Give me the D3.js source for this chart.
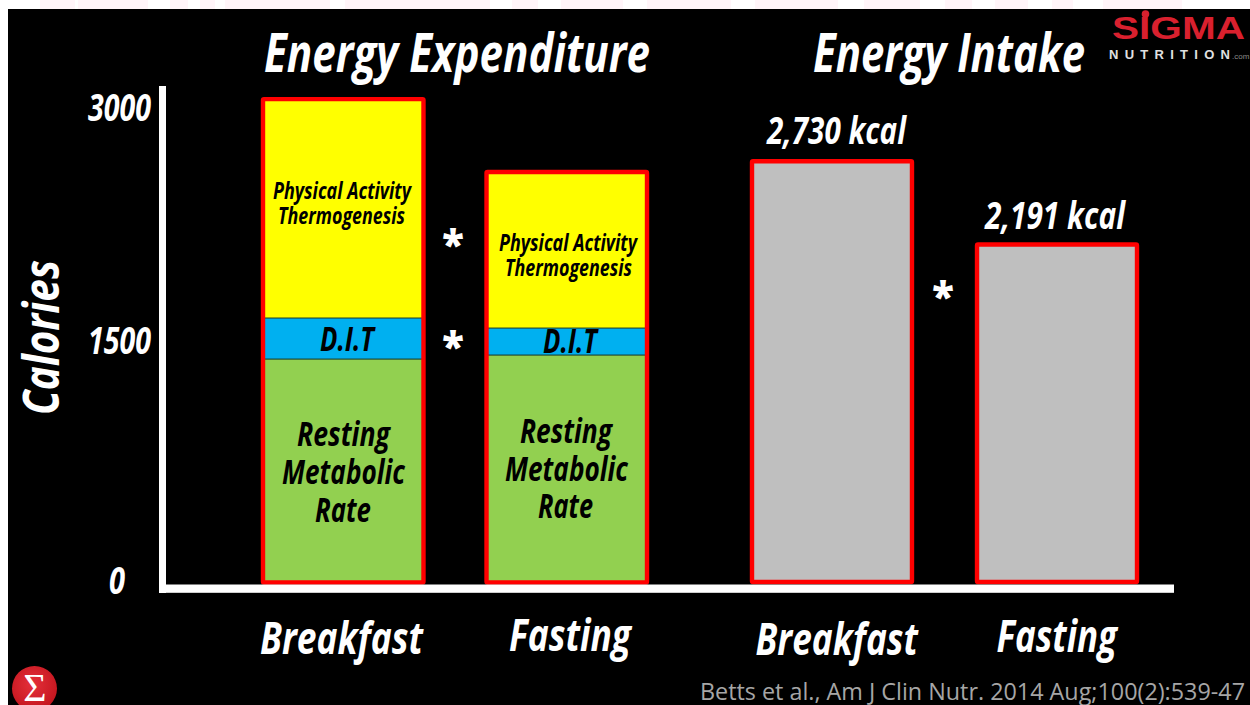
<!DOCTYPE html>
<html>
<head>
<meta charset="utf-8">
<script src="https://cdnjs.cloudflare.com/ajax/libs/d3/7.9.0/d3.min.js"></script>
<style>
  html, body { margin: 0; padding: 0; background: #fff; overflow: hidden; }
  svg { display: block; }
  text { font-family: "Open Sans", "Noto Sans", sans-serif; }
  .cond { font-weight: 700; font-style: italic; }
</style>
</head>
<body>
<svg id="chart" width="1250" height="705"></svg>
<script>
// Daily energy balance, breakfast versus extended fasting (kcal)
const groups = ["Breakfast", "Fasting"];
const components = ["rmr", "dit", "pat"];
const restingMetabolicRate = [1448, 1474];
const dietThermogenesis = [266, 175];
const activityThermogenesis = [1419, 1011];
const energyIntake = [2730, 2191];
const intakeLabels = ["2,730 kcal", "2,191 kcal"];
const yTicks = [0, 1500, 3000];

const componentColors = { rmr: "#92d050", dit: "#00b0f0", pat: "#ffff00" };
const stripePatches = [[40,75],[78,148],[170,188],[200,215],[225,330],[345,490],[512,538],[561,623],
  [647,731],[755,838],[864,920],[945,972],[995,1028],[1052,1073],[1103,1182]];

const svg = d3.select("#chart");

// Slide backdrop
svg.append("g").selectAll("rect").data(stripePatches).join("rect")
  .attr("x", d => d[0]).attr("y", 0).attr("width", d => d[1] - d[0]).attr("height", 9)
  .attr("fill", "#fff5f9");
svg.append("rect").attr("x", 8).attr("y", 9).attr("width", 1242).attr("height", 696).attr("fill", "#000");

// Scales
const y = d3.scaleLinear().domain([0, 3000]).range([582.5, 119.6]);
const xExpenditure = d3.scaleBand().domain(groups).range([263, 647]).paddingInner(0.282);
const xIntake = d3.scaleBand().domain(groups).range([752, 1137]).paddingInner(0.289);
const tickY = d3.scaleLinear().domain(yTicks).range([580, 340, 107]);

// Condensed label helper: stretches real text to span x0..x1 on a baseline
function label(parent, str, x0, x1, baseline, size, fill) {
  return parent.append("text")
    .attr("class", "cond")
    .attr("x", x0).attr("y", baseline)
    .attr("textLength", x1 - x0).attr("lengthAdjust", "spacingAndGlyphs")
    .attr("font-size", size).attr("fill", fill)
    .text(str);
}

// Stacked expenditure bars
const rows = groups.map((g, i) => ({
  group: g, rmr: restingMetabolicRate[i], dit: dietThermogenesis[i], pat: activityThermogenesis[i]
}));
const layers = d3.stack().keys(components)(rows);
const stackG = svg.append("g");
stackG.selectAll("g").data(layers).join("g")
  .attr("fill", d => componentColors[d.key])
  .selectAll("rect").data(d => d).join("rect")
  .attr("x", d => xExpenditure(d.data.group))
  .attr("width", xExpenditure.bandwidth())
  .attr("y", d => y(d[1]))
  .attr("height", d => y(d[0]) - y(d[1]));

// Hairlines between the stacked components
stackG.selectAll("line").data(layers.slice(0, 2).flatMap(l => l)).join("line")
  .attr("x1", d => xExpenditure(d.data.group))
  .attr("x2", d => xExpenditure(d.data.group) + xExpenditure.bandwidth())
  .attr("y1", d => y(d[1])).attr("y2", d => y(d[1]))
  .attr("stroke", "#1a3a2a").attr("stroke-width", 1);

// Red outlines around the expenditure totals
svg.append("g").selectAll("rect").data(rows).join("rect")
  .attr("x", d => xExpenditure(d.group))
  .attr("width", xExpenditure.bandwidth())
  .attr("y", d => y(d.rmr + d.dit + d.pat))
  .attr("height", d => y(0) - y(d.rmr + d.dit + d.pat))
  .attr("fill", "none").attr("stroke", "#ff0000").attr("stroke-width", 4.4).attr("rx", 1);

// Intake bars
svg.append("g").selectAll("rect").data(energyIntake).join("rect")
  .attr("x", (d, i) => xIntake(groups[i]))
  .attr("width", xIntake.bandwidth())
  .attr("y", d => y(d))
  .attr("height", d => y(0) - y(d) - 0.5)
  .attr("fill", "#bfbfbf").attr("stroke", "#ff0000").attr("stroke-width", 4.4).attr("rx", 1);

// Axis lines
svg.append("rect").attr("x", 159).attr("y", 86).attr("width", 7).attr("height", 507).attr("fill", "#fff");
svg.append("rect").attr("x", 159).attr("y", 584.5).attr("width", 1015).attr("height", 8.3).attr("fill", "#fff");

// Y axis tick labels
const axisG = svg.append("g").attr("transform", "translate(151,0)")
  .call(d3.axisLeft(tickY).tickValues(yTicks).tickSize(0).tickPadding(0).tickFormat(d3.format("d")));
axisG.select(".domain").remove();
axisG.selectAll("text")
  .attr("class", "cond")
  .attr("fill", "#fff")
  .attr("font-size", 38)
  .style("font-family", '"Open Sans", sans-serif')
  .attr("x", 0)
  .attr("dy", "0.36em")
  .attr("textLength", d => d === 0 ? 16 : 63)
  .attr("lengthAdjust", "spacingAndGlyphs")
  .attr("transform", d => d === 0 ? "translate(-26,0)" : null);

// Titles
label(svg, "Energy Expenditure", 264, 650, 72, 54, "#fff");
label(svg, "Energy Intake", 813, 1085, 72, 54, "#fff");

// Rotated y title
label(svg.append("g").attr("transform", "translate(59,415) rotate(-90)"), "Calories", 0, 155, 0, 50, "#fff");

// Group labels under the bars
label(svg, groups[0], 260, 423, 654, 44, "#fff");
label(svg, groups[1], 509, 631, 651, 44, "#fff");
label(svg, groups[0], 755.5, 918, 655, 44, "#fff");
label(svg, groups[1], 996.5, 1117, 652, 44, "#fff");

// Intake values above the bars
label(svg, intakeLabels[0], 767, 906, 144, 37, "#fff");
label(svg, intakeLabels[1], 985, 1125, 229, 37, "#fff");

// Labels inside the stacked bars
[
  ["Physical Activity", 273, 411, 199, 23], ["Thermogenesis", 278, 405, 224, 23],
  ["Physical Activity", 499, 637, 251, 23], ["Thermogenesis", 505, 632, 276, 23],
  ["D.I.T", 320, 374, 351, 34], ["D.I.T", 543, 597, 353, 34],
  ["Resting", 297, 390, 446, 34], ["Metabolic", 282, 405, 484, 34], ["Rate", 315, 371, 522, 34],
  ["Resting", 520, 612, 443, 34], ["Metabolic", 505, 628, 481, 34], ["Rate", 538, 593, 518, 34]
].forEach(t => label(svg, t[0], t[1], t[2], t[3], t[4], "#000"));

// Significance markers
[[453, 240], [453, 342], [943, 292]].forEach(p => {
  svg.append("text").attr("x", p[0]).attr("y", p[1] + 19)
    .attr("text-anchor", "middle").attr("font-weight", 800).attr("font-size", 40)
    .attr("fill", "#fff").text("*");
});

// Citation
svg.append("text").attr("x", 700).attr("y", 700)
  .attr("textLength", 545).attr("lengthAdjust", "spacingAndGlyphs")
  .attr("font-size", 23).attr("fill", "#a6a6a6")
  .text("Betts et al., Am J Clin Nutr. 2014 Aug;100(2):539-47");

// Brand mark, top right
svg.append("text").attr("x", 1112).attr("y", 39)
  .attr("textLength", 133).attr("lengthAdjust", "spacingAndGlyphs")
  .style("font-family", '"Liberation Sans", sans-serif')
  .attr("font-weight", 700).attr("font-size", 31).attr("fill", "#d9202e").text("SIGMA");
svg.append("circle").attr("cx", 1145.5).attr("cy", 14).attr("r", 3.8).attr("fill", "#d9202e");
svg.append("text").attr("x", 1109).attr("y", 59)
  .attr("textLength", 121).attr("lengthAdjust", "spacing")
  .style("font-family", '"Liberation Sans", sans-serif')
  .attr("font-weight", 700).attr("font-size", 13).attr("fill", "#e0e0e0").text("NUTRITION");
svg.append("text").attr("x", 1232).attr("y", 59)
  .style("font-family", '"Liberation Sans", sans-serif')
  .attr("font-size", 8).attr("fill", "#8a8a8a").text(".com");

// Round sigma badge, bottom left
const defs = svg.append("defs");
const grad = defs.append("radialGradient").attr("id", "badge").attr("cx", "45%").attr("cy", "40%").attr("r", "60%");
grad.append("stop").attr("offset", "0%").attr("stop-color", "#e5303a");
grad.append("stop").attr("offset", "100%").attr("stop-color", "#c4161f");
svg.append("circle").attr("cx", 34.5).attr("cy", 688.5).attr("r", 22.5).attr("fill", "url(#badge)");
svg.append("text").attr("x", 35).attr("y", 701).attr("text-anchor", "middle")
  .style("font-family", '"Liberation Serif", serif')
  .attr("font-size", 40).attr("fill", "#fff").text("Σ");
</script>
</body>
</html>
